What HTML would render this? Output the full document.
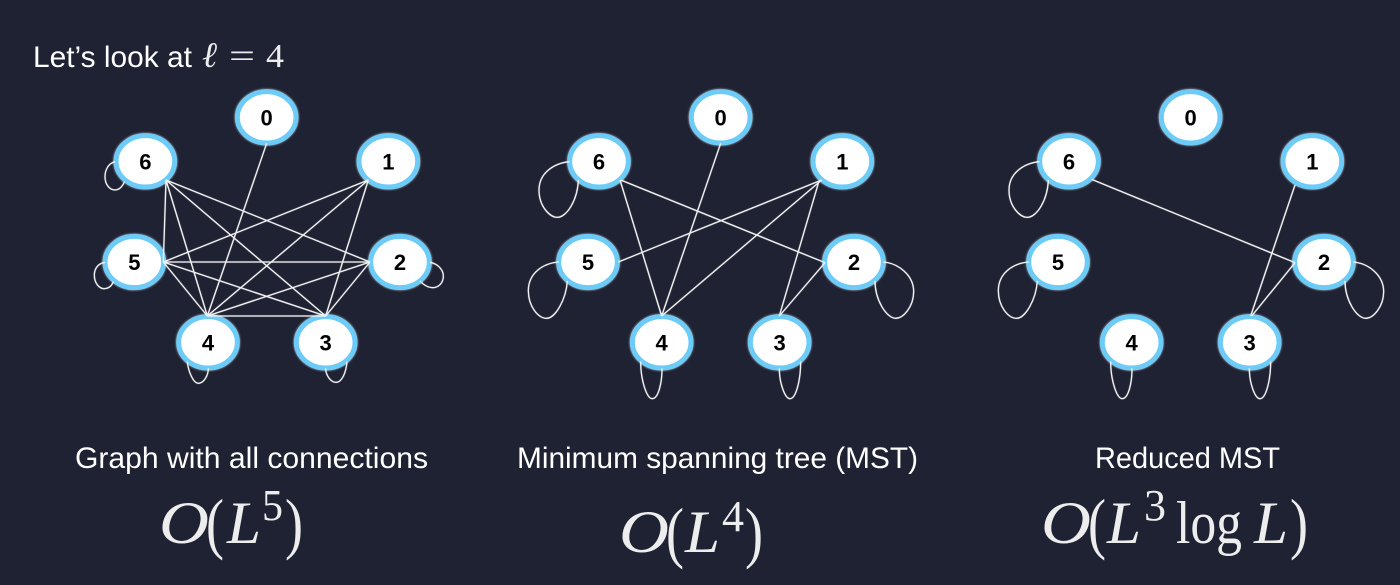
<!DOCTYPE html>
<html><head><meta charset="utf-8">
<style>
html,body{margin:0;padding:0;background:#1f2233;width:1400px;height:585px;overflow:hidden}
svg{display:block}
.n ellipse{fill:#fff;stroke:#6ccbf7;stroke-width:15;filter:drop-shadow(0 0 3px rgba(255,255,255,.7))}
.n text{font:bold 66px "Liberation Sans",sans-serif;fill:#000;text-anchor:middle}
.e{fill:none;stroke:#f2f2f2;stroke-width:4;filter:drop-shadow(0 0 1.5px rgba(255,255,255,.35))}
.cap{font-family:"Liberation Sans",sans-serif;fill:#fff;font-size:30px}
.m{font-family:"Liberation Serif",serif;fill:#ededed;font-size:60px}
.i{font-style:italic}
.s{font-size:44px}
.p{font-size:68px}
</style></head><body>
<svg width="1400" height="585" viewBox="0 0 1400 585" xmlns="http://www.w3.org/2000/svg">
<rect width="1400" height="585" fill="#1f2233"/>

<!-- Graph 1 -->
<g transform="translate(80,80) scale(.33333)">
<g class="n">
<g><ellipse cx="560" cy="112" rx="88" ry="77"/><text x="560" y="136">0</text></g>
<g><ellipse cx="925" cy="244" rx="88" ry="77"/><text x="925" y="268">1</text></g>
<g><ellipse cx="960" cy="546" rx="88" ry="77"/><text x="960" y="570">2</text></g>
<g><ellipse cx="737" cy="787" rx="88" ry="77"/><text x="737" y="811">3</text></g>
<g><ellipse cx="384" cy="787" rx="88" ry="77"/><text x="384" y="811">4</text></g>
<g><ellipse cx="163" cy="546" rx="88" ry="77"/><text x="163" y="570">5</text></g>
<g><ellipse cx="196" cy="244" rx="88" ry="77"/><text x="196" y="268">6</text></g>
</g>
<g class="e">
<path d="M560,190L382,708"/>
<path d="M258,300L250,546"/>
<path d="M258,300L382,708"/>
<path d="M258,300L737,708"/>
<path d="M258,300L870,546"/>
<path d="M865,300L250,546"/>
<path d="M865,300L382,708"/>
<path d="M865,300L737,708"/>
<path d="M250,546L870,546"/>
<path d="M250,546L382,708"/>
<path d="M250,546L737,708"/>
<path d="M870,546L382,708"/>
<path d="M870,546L737,708"/>
<path d="M382,708L737,708"/>
<path d="M105,245C85,250 75,270 75,290C75,315 90,330 105,330C120,330 130,315 133,305"/>
<path d="M75,547C55,550 43,565 43,585C43,610 58,626 72,626C85,626 95,618 100,605"/>
<path d="M1050,547C1075,552 1090,570 1090,588C1090,610 1075,623 1058,623C1045,623 1030,615 1020,603"/>
<path d="M322,845C325,875 340,910 355,910C372,910 385,885 385,865"/>
<path d="M737,865C737,885 752,907 768,907C785,907 798,880 801,845"/>
</g>
</g>

<!-- Graph 2 -->
<g transform="translate(510,80) scale(.33333)">
<g class="n">
<g><ellipse cx="632" cy="112" rx="88" ry="77"/><text x="632" y="136">0</text></g>
<g><ellipse cx="997" cy="244" rx="88" ry="77"/><text x="997" y="268">1</text></g>
<g><ellipse cx="1032" cy="546" rx="88" ry="77"/><text x="1032" y="570">2</text></g>
<g><ellipse cx="809" cy="787" rx="88" ry="77"/><text x="809" y="811">3</text></g>
<g><ellipse cx="455" cy="787" rx="88" ry="77"/><text x="455" y="811">4</text></g>
<g><ellipse cx="234" cy="546" rx="88" ry="77"/><text x="234" y="570">5</text></g>
<g><ellipse cx="267" cy="244" rx="88" ry="77"/><text x="267" y="268">6</text></g>
</g>
<g class="e">
<path d="M632,190L455,708"/>
<path d="M330,300L455,708"/>
<path d="M332,300L945,548"/>
<path d="M325,546L935,300"/>
<path d="M935,300L455,708"/>
<path d="M925,310L808,708"/>
<path d="M945,548L808,708"/>
<path d="M178,245C130,250 87,280 87,330C87,380 120,412 142,412C170,412 203,360 205,300"/>
<path d="M146,546C98,550 55,580 55,632C55,680 85,715 110,715C135,715 168,660 172,603"/>
<path d="M1120,546C1165,550 1211,585 1211,635C1211,680 1180,715 1157,715C1130,715 1095,660 1095,603"/>
<path d="M392,845C392,900 410,956 427,956C445,956 456,910 456,865"/>
<path d="M808,865C808,910 825,956 840,956C858,956 872,900 872,845"/>
</g>
</g>

<!-- Graph 3 -->
<g transform="translate(980,80) scale(.33333)">
<g class="n">
<g><ellipse cx="632" cy="112" rx="88" ry="77"/><text x="632" y="136">0</text></g>
<g><ellipse cx="997" cy="244" rx="88" ry="77"/><text x="997" y="268">1</text></g>
<g><ellipse cx="1032" cy="546" rx="88" ry="77"/><text x="1032" y="570">2</text></g>
<g><ellipse cx="809" cy="787" rx="88" ry="77"/><text x="809" y="811">3</text></g>
<g><ellipse cx="455" cy="787" rx="88" ry="77"/><text x="455" y="811">4</text></g>
<g><ellipse cx="234" cy="546" rx="88" ry="77"/><text x="234" y="570">5</text></g>
<g><ellipse cx="267" cy="244" rx="88" ry="77"/><text x="267" y="268">6</text></g>
</g>
<g class="e">
<path d="M335,298L945,548"/>
<path d="M945,315L812,708"/>
<path d="M945,548L815,708"/>
<path d="M178,245C130,250 87,280 87,330C87,380 120,412 142,412C170,412 203,360 205,300"/>
<path d="M146,546C98,550 55,580 55,632C55,680 85,715 110,715C135,715 168,660 172,603"/>
<path d="M1120,546C1165,550 1211,585 1211,635C1211,680 1180,715 1157,715C1130,715 1095,660 1095,603"/>
<path d="M392,845C392,900 410,956 427,956C445,956 456,910 456,865"/>
<path d="M808,865C808,910 825,956 840,956C858,956 872,900 872,845"/>
</g>
</g>

<!-- Heading -->
<text class="cap" x="33" y="67" textLength="159" lengthAdjust="spacingAndGlyphs">Let’s look at</text>
<text class="m i" x="202" y="67" style="font-size:36px" textLength="15" lengthAdjust="spacingAndGlyphs">ℓ</text>
<text class="m" x="229" y="67" style="font-size:34px" textLength="26" lengthAdjust="spacingAndGlyphs">=</text>
<text class="m" x="266" y="67" style="font-size:34px" textLength="18" lengthAdjust="spacingAndGlyphs">4</text>

<!-- Captions -->
<text class="cap" x="75" y="468" textLength="353" lengthAdjust="spacingAndGlyphs">Graph with all connections</text>
<text class="cap" x="517" y="468" textLength="401" lengthAdjust="spacingAndGlyphs">Minimum spanning tree (MST)</text>
<text class="cap" x="1095" y="468" textLength="185" lengthAdjust="spacingAndGlyphs">Reduced MST</text>

<!-- O(L^5) -->
<text class="m i" x="159" y="543" textLength="50" lengthAdjust="spacingAndGlyphs">O</text>
<text class="m p" x="206" y="546" textLength="18" lengthAdjust="spacingAndGlyphs">(</text>
<text class="m i" x="227" y="543" textLength="34" lengthAdjust="spacingAndGlyphs">L</text>
<text class="m s" x="262" y="520" textLength="21" lengthAdjust="spacingAndGlyphs">5</text>
<text class="m p" x="285" y="546" textLength="18" lengthAdjust="spacingAndGlyphs">)</text>

<!-- O(L^4) -->
<text class="m i" x="619" y="552" textLength="50" lengthAdjust="spacingAndGlyphs">O</text>
<text class="m p" x="666" y="555" textLength="18" lengthAdjust="spacingAndGlyphs">(</text>
<text class="m i" x="685" y="552" textLength="35" lengthAdjust="spacingAndGlyphs">L</text>
<text class="m s" x="722" y="531" textLength="22" lengthAdjust="spacingAndGlyphs">4</text>
<text class="m p" x="745" y="555" textLength="18" lengthAdjust="spacingAndGlyphs">)</text>

<!-- O(L^3 log L) -->
<text class="m i" x="1041" y="543" textLength="50" lengthAdjust="spacingAndGlyphs">O</text>
<text class="m p" x="1088" y="546" textLength="18" lengthAdjust="spacingAndGlyphs">(</text>
<text class="m i" x="1107" y="543" textLength="34" lengthAdjust="spacingAndGlyphs">L</text>
<text class="m s" x="1144" y="520" textLength="22" lengthAdjust="spacingAndGlyphs">3</text>
<text class="m" x="1176" y="543" textLength="66" lengthAdjust="spacingAndGlyphs">log</text>
<text class="m i" x="1254" y="543" textLength="34" lengthAdjust="spacingAndGlyphs">L</text>
<text class="m p" x="1290" y="546" textLength="18" lengthAdjust="spacingAndGlyphs">)</text>
</svg>
</body></html>
